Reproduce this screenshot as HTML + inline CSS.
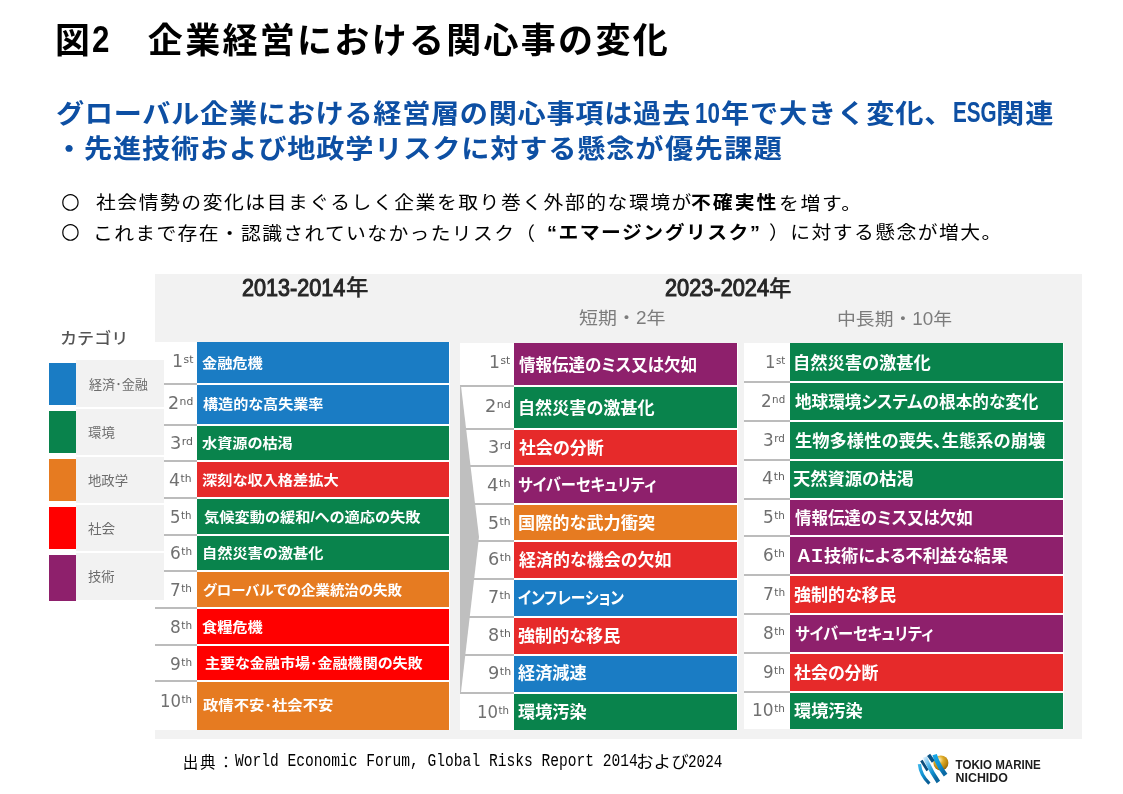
<!DOCTYPE html>
<html lang="ja">
<head>
<meta charset="utf-8">
<title>図2 企業経営における関心事の変化</title>
<style>
html,body{margin:0;padding:0;}
body{width:1123px;height:794px;position:relative;overflow:hidden;background:#fff;font-family:"Liberation Sans","Noto Sans CJK JP",sans-serif;}
h1,h2,p{margin:0;padding:0;font-weight:inherit;font-size:inherit;}
.t{position:absolute;white-space:nowrap;line-height:1.45;transform-origin:0 0;display:block;}
.t sup{font-size:10.7px;vertical-align:baseline;position:relative;top:-3.9px;line-height:0;margin-left:.5px;color:#5e5e5e;}
.f1{font-family:'Liberation Sans','Noto Sans CJK JP',sans-serif;font-weight:700;color:#000;}
.f2{font-family:'Liberation Sans','Noto Sans CJK JP',sans-serif;font-weight:700;color:#0d4fa3;}
.f3{font-family:'DejaVu Sans','Liberation Sans',sans-serif;font-weight:400;color:#000;}
.f4{font-family:'Liberation Sans','Noto Sans CJK JP',sans-serif;font-weight:400;color:#000;}
.f5{font-family:'Liberation Sans','Noto Sans CJK JP',sans-serif;font-weight:400;color:#262626;-webkit-text-stroke:1.1px #262626;}
.f6{font-family:'Liberation Sans','Noto Sans CJK JP',sans-serif;font-weight:500;color:#262626;-webkit-text-stroke:.3px #262626;}
.f7{font-family:'Liberation Sans','Noto Sans CJK JP',sans-serif;font-weight:400;color:#7c7c7c;}
.f8{font-family:'Liberation Sans','Noto Sans CJK JP',sans-serif;font-weight:500;color:#555;}
.f9{font-family:'Liberation Mono',monospace;font-weight:400;color:#000;}
.f10{font-family:'Liberation Sans','Noto Sans CJK JP',sans-serif;font-weight:700;color:#fff;font-feature-settings:'palt' 1;}
.f11{font-family:'DejaVu Sans','Liberation Sans',sans-serif;font-weight:400;color:#707070;}
.f12{font-family:'Liberation Sans','Noto Sans CJK JP',sans-serif;font-weight:400;color:#6c6c6c;font-feature-settings:'palt' 1;}
.tbl,.blk,.sep,.lbox,.lsq,.panel,.logo,.arrow{position:absolute;}
.panel{left:155px;top:274px;width:927px;height:464.7px;background:#f2f2f2;}
.tbl{background:#fff;}
.sep{height:1.6px;background:#bcbcbc;}
.lbox{left:76px;width:88px;background:#f2f2f2;}
.lsq{left:49px;width:27px;}
.logo{left:912px;top:748px;width:140px;height:44px;}
</style>
</head>
<body>
<h1><span class="t f1" id="t1" style="left:54.81px;top:15.86px;font-size:35px;transform:scaleX(0.9949);">図</span>
<span class="t f1" id="t1b" style="left:91.98px;top:14.35px;font-size:36.5px;transform:scaleX(0.8580);">2</span>
<span class="t f1" id="t2" style="left:147.86px;top:15.70px;font-size:35px;letter-spacing:2.295px;">企業経営における関心事の変化</span></h1>
<h2><span class="t f2" id="s1a" style="left:56.10px;top:94.57px;font-size:26.6px;letter-spacing:0.640px;transform:scaleX(1.060);">グローバル企業における経営層の関心事項は過去</span>
<span class="t f2" id="s1b" style="left:694.97px;top:92.30px;font-size:29.4px;transform:scaleX(0.7624);">10</span>
<span class="t f2" id="s1c" style="left:720.82px;top:95.14px;font-size:26.6px;letter-spacing:0.789px;transform:scaleX(1.060);">年で大きく変化、</span>
<span class="t f2" id="s1d" style="left:952.66px;top:92.14px;font-size:28.6px;transform:scaleX(0.7226);">ESG</span>
<span class="t f2" id="s1e" style="left:995.56px;top:94.68px;font-size:26.6px;letter-spacing:0.981px;transform:scaleX(1.060);">関連</span>
<span class="t f2" id="s2" style="left:55.40px;top:129.77px;font-size:26.6px;letter-spacing:0.782px;transform:scaleX(1.060);">・先進技術および地政学リスクに対する懸念が</span>
<span class="t f2" id="s2b" style="left:665.40px;top:130.05px;font-size:26.6px;letter-spacing:1.316px;transform:scaleX(1.060);">優先課題</span></h2>
<p><span class="t f3" id="b1o" style="left:61.07px;top:184.72px;font-size:21.6px;transform:scaleX(0.9937);">○</span>
<span class="t f4" id="b1a" style="left:95.54px;top:189.13px;font-size:18.7px;letter-spacing:1.438px;transform:scaleX(1.060);">社会情勢の変化は目まぐるしく企業を取り巻く外部的な環境が</span>
<span class="t f1" id="b1b" style="left:691.12px;top:189.06px;font-size:18.7px;letter-spacing:1.910px;transform:scaleX(1.060);">不確実性</span>
<span class="t f4" id="b1c" style="left:779.10px;top:189.54px;font-size:18.7px;letter-spacing:1.544px;transform:scaleX(1.060);">を増す。</span></p>
<p><span class="t f3" id="b2o" style="left:61.07px;top:214.72px;font-size:21.6px;transform:scaleX(0.9937);">○</span>
<span class="t f4" id="b2a" style="left:92.92px;top:219.74px;font-size:18.7px;letter-spacing:1.259px;transform:scaleX(1.060);">これまで存在・認識されていなかったリスク（</span>
<span class="t f1" id="b2b" style="left:546.70px;top:219.39px;font-size:18.7px;letter-spacing:1.427px;transform:scaleX(1.060);">“エマージングリスク”</span>
<span class="t f4" id="b2c" style="left:768.96px;top:219.39px;font-size:18.7px;letter-spacing:1.352px;transform:scaleX(1.060);">）に対する懸念が増大。</span></p>
<div class="panel"></div>
<span class="t f5" id="h1" style="left:241.51px;top:269.68px;font-size:24.8px;transform:scaleX(0.8718);">2013-2014</span>
<span class="t f6" id="h1y" style="left:345.94px;top:272.98px;font-size:21.2px;transform:scaleX(1.0599);">年</span>
<span class="t f5" id="h2" style="left:664.69px;top:270.31px;font-size:24.8px;transform:scaleX(0.8775);">2023-2024</span>
<span class="t f6" id="h2y" style="left:769.43px;top:274.33px;font-size:21.2px;transform:scaleX(1.0574);">年</span>
<span class="t f7" id="sh1" style="left:579.13px;top:306.14px;font-size:17.5px;transform:scaleX(1.0841);">短期・2年</span>
<span class="t f7" id="sh2" style="left:837.09px;top:307.22px;font-size:17.5px;transform:scaleX(1.0756);">中長期・10年</span>
<span class="t f8" id="cat" style="left:60.17px;top:328.00px;font-size:15.5px;transform:scaleX(1.1028);">カテゴリ</span>
<div class="tbl" style="left:155px;top:341.9px;width:295px;height:388.0px"></div>
<div class="blk" style="left:197px;top:342.2px;width:252px;height:40.7px;background:#1a7cc4"></div>
<div class="sep" style="left:155px;top:383.2px;width:42px"></div>
<div class="blk" style="left:197px;top:385.1px;width:252px;height:38.7px;background:#1a7cc4"></div>
<div class="sep" style="left:155px;top:424.2px;width:42px"></div>
<div class="blk" style="left:197px;top:426.1px;width:252px;height:33.6px;background:#09834c"></div>
<div class="sep" style="left:155px;top:460.1px;width:42px"></div>
<div class="blk" style="left:197px;top:462.2px;width:252px;height:34.4px;background:#e62a2a"></div>
<div class="sep" style="left:155px;top:497.2px;width:42px"></div>
<div class="blk" style="left:197px;top:499.3px;width:252px;height:34.5px;background:#09834c"></div>
<div class="sep" style="left:155px;top:534.2px;width:42px"></div>
<div class="blk" style="left:197px;top:536.1px;width:252px;height:33.5px;background:#09834c"></div>
<div class="sep" style="left:155px;top:570.1px;width:42px"></div>
<div class="blk" style="left:197px;top:572.2px;width:252px;height:34.5px;background:#e67b21"></div>
<div class="sep" style="left:155px;top:607.1px;width:42px"></div>
<div class="blk" style="left:197px;top:609.0px;width:252px;height:34.9px;background:#ff0000"></div>
<div class="sep" style="left:155px;top:644.2px;width:42px"></div>
<div class="blk" style="left:197px;top:646.1px;width:252px;height:33.7px;background:#ff0000"></div>
<div class="sep" style="left:155px;top:680.2px;width:42px"></div>
<div class="blk" style="left:197px;top:682.2px;width:252px;height:47.4px;background:#e67b21"></div>
<div class="lbox" style="top:360px;height:47px"></div><div class="lsq" style="top:363px;height:42px;background:#1a7cc4"></div>
<div class="lbox" style="top:409px;height:46px"></div><div class="lsq" style="top:411px;height:42px;background:#09834c"></div>
<div class="lbox" style="top:457px;height:46px"></div><div class="lsq" style="top:459px;height:42px;background:#e67b21"></div>
<div class="lbox" style="top:505px;height:46px"></div><div class="lsq" style="top:507px;height:42px;background:#ff0000"></div>
<div class="lbox" style="top:553px;height:47px"></div><div class="lsq" style="top:555px;height:46px;background:#8e206c"></div>
<span class="t f12" id="lg1" style="left:88.90px;top:376.32px;font-size:13.0px;transform:scaleX(1.0069);">経済･金融</span>
<span class="t f12" id="lg2" style="left:87.97px;top:424.15px;font-size:13.0px;transform:scaleX(1.0292);">環境</span>
<span class="t f12" id="lg3" style="left:87.99px;top:471.84px;font-size:13.0px;transform:scaleX(1.0276);">地政学</span>
<span class="t f12" id="lg4" style="left:88.26px;top:519.68px;font-size:13.0px;transform:scaleX(1.0461);">社会</span>
<span class="t f12" id="lg5" style="left:87.89px;top:567.64px;font-size:13.0px;transform:scaleX(1.0264);">技術</span>
<div class="tbl" style="left:460px;top:342.7px;width:278px;height:387.3px"></div>
<div class="blk" style="left:514px;top:343.0px;width:223px;height:41.8px;background:#8e206c"></div>
<div class="sep" style="left:460px;top:385.1px;width:54px"></div>
<div class="blk" style="left:514px;top:387.0px;width:223px;height:40.6px;background:#09834c"></div>
<div class="sep" style="left:460px;top:428.1px;width:54px"></div>
<div class="blk" style="left:514px;top:430.1px;width:223px;height:34.6px;background:#e62a2a"></div>
<div class="sep" style="left:460px;top:465.1px;width:54px"></div>
<div class="blk" style="left:514px;top:467.2px;width:223px;height:35.5px;background:#8e206c"></div>
<div class="sep" style="left:460px;top:503.1px;width:54px"></div>
<div class="blk" style="left:514px;top:505.2px;width:223px;height:34.6px;background:#e67b21"></div>
<div class="sep" style="left:460px;top:540.2px;width:54px"></div>
<div class="blk" style="left:514px;top:542.2px;width:223px;height:35.5px;background:#e62a2a"></div>
<div class="sep" style="left:460px;top:578.2px;width:54px"></div>
<div class="blk" style="left:514px;top:580.2px;width:223px;height:35.4px;background:#1a7cc4"></div>
<div class="sep" style="left:460px;top:616.1px;width:54px"></div>
<div class="blk" style="left:514px;top:618.2px;width:223px;height:35.5px;background:#e62a2a"></div>
<div class="sep" style="left:460px;top:654.2px;width:54px"></div>
<div class="blk" style="left:514px;top:656.2px;width:223px;height:35.4px;background:#1a7cc4"></div>
<div class="sep" style="left:460px;top:692.2px;width:54px"></div>
<div class="blk" style="left:514px;top:694.3px;width:223px;height:35.4px;background:#09834c"></div>
<svg class="arrow" style="left:460px;top:386px" width="20" height="306" viewBox="0 0 20 306"><polygon points="0,0 1,0 19,151 1,306 0,306" fill="#bfbfbf"/></svg>
<div class="tbl" style="left:744px;top:342.7px;width:320px;height:386.8px"></div>
<div class="blk" style="left:790px;top:343.0px;width:273px;height:37.8px;background:#09834c"></div>
<div class="sep" style="left:744px;top:381.2px;width:46px"></div>
<div class="blk" style="left:790px;top:383.3px;width:273px;height:36.4px;background:#09834c"></div>
<div class="sep" style="left:744px;top:420.1px;width:46px"></div>
<div class="blk" style="left:790px;top:422.2px;width:273px;height:36.6px;background:#09834c"></div>
<div class="sep" style="left:744px;top:459.2px;width:46px"></div>
<div class="blk" style="left:790px;top:461.3px;width:273px;height:36.5px;background:#09834c"></div>
<div class="sep" style="left:744px;top:498.3px;width:46px"></div>
<div class="blk" style="left:790px;top:500.4px;width:273px;height:34.5px;background:#8e206c"></div>
<div class="sep" style="left:744px;top:535.4px;width:46px"></div>
<div class="blk" style="left:790px;top:537.4px;width:273px;height:36.3px;background:#8e206c"></div>
<div class="sep" style="left:744px;top:574.2px;width:46px"></div>
<div class="blk" style="left:790px;top:576.3px;width:273px;height:36.4px;background:#e62a2a"></div>
<div class="sep" style="left:744px;top:613.2px;width:46px"></div>
<div class="blk" style="left:790px;top:615.3px;width:273px;height:36.5px;background:#8e206c"></div>
<div class="sep" style="left:744px;top:652.2px;width:46px"></div>
<div class="blk" style="left:790px;top:654.2px;width:273px;height:36.5px;background:#e62a2a"></div>
<div class="sep" style="left:744px;top:691.2px;width:46px"></div>
<div class="blk" style="left:790px;top:693.2px;width:273px;height:36.0px;background:#09834c"></div>
<span class="t f10" id="Lb1" style="left:201.96px;top:353.36px;font-size:14.0px;transform:scaleX(1.0847);">金融危機</span>
<span class="t f10" id="Lb2" style="left:203.41px;top:394.15px;font-size:14.0px;transform:scaleX(1.0778);">構造的な高失業率</span>
<span class="t f10" id="Lb3" style="left:201.95px;top:433.36px;font-size:14.0px;transform:scaleX(1.0832);">水資源の枯渇</span>
<span class="t f10" id="Lb4" style="left:201.91px;top:470.00px;font-size:14.0px;transform:scaleX(1.0884);">深刻な収入格差拡大</span>
<span class="t f10" id="Lb5" style="left:204.32px;top:506.92px;font-size:14.0px;transform:scaleX(1.0877);">気候変動の緩和/への適応の失敗</span>
<span class="t f10" id="Lb6" style="left:201.52px;top:542.68px;font-size:14.0px;transform:scaleX(1.0851);">自然災害の激甚化</span>
<span class="t f10" id="Lb7" style="left:202.97px;top:580.30px;font-size:14.0px;transform:scaleX(1.0326);">グローバルでの企業統治の失敗</span>
<span class="t f10" id="Lb8" style="left:201.96px;top:616.98px;font-size:14.0px;transform:scaleX(1.0847);">食糧危機</span>
<span class="t f10" id="Lb9" style="left:204.76px;top:653.16px;font-size:14.0px;transform:scaleX(1.0745);">主要な金融市場･金融機関の失敗</span>
<span class="t f10" id="Lb10" style="left:203.41px;top:695.15px;font-size:14.0px;transform:scaleX(1.0955);">政情不安･社会不安</span><span class="t f11" id="Lr1" style="left:171.78px;top:349.25px;font-size:17.3px;transform:scaleX(1.0084);">1<sup>st</sup></span>
<span class="t f11" id="Lr2" style="left:167.79px;top:390.57px;font-size:17.3px;transform:scaleX(1.0104);">2<sup>nd</sup></span>
<span class="t f11" id="Lr3" style="left:169.97px;top:430.68px;font-size:17.3px;transform:scaleX(1.0258);">3<sup>rd</sup></span>
<span class="t f11" id="Lr4" style="left:169.40px;top:467.57px;font-size:17.3px;transform:scaleX(1.0038);">4<sup>th</sup></span>
<span class="t f11" id="Lr5" style="left:170.26px;top:504.74px;font-size:17.3px;transform:scaleX(0.9543);">5<sup>th</sup></span>
<span class="t f11" id="Lr6" style="left:170.21px;top:541.05px;font-size:17.3px;transform:scaleX(0.9815);">6<sup>th</sup></span>
<span class="t f11" id="Lr7" style="left:170.03px;top:577.57px;font-size:17.3px;transform:scaleX(0.9733);">7<sup>th</sup></span>
<span class="t f11" id="Lr8" style="left:170.21px;top:615.36px;font-size:17.3px;transform:scaleX(0.9815);">8<sup>th</sup></span>
<span class="t f11" id="Lr9" style="left:170.21px;top:651.59px;font-size:17.3px;transform:scaleX(0.9815);">9<sup>th</sup></span>
<span class="t f11" id="Lr10" style="left:160.09px;top:688.91px;font-size:17.3px;transform:scaleX(0.9561);">10<sup>th</sup></span>
<span class="t f10" id="Mb1" style="left:519.21px;top:353.88px;font-size:17.0px;transform:scaleX(0.9693);">情報伝達のミス又は欠如</span>
<span class="t f10" id="Mb2" style="left:518.39px;top:396.82px;font-size:17.0px;transform:scaleX(1.0060);">自然災害の激甚化</span>
<span class="t f10" id="Mb3" style="left:518.80px;top:437.00px;font-size:17.0px;transform:scaleX(0.9981);">社会の分断</span>
<span class="t f10" id="Mb4" style="left:518.27px;top:473.66px;font-size:17.0px;transform:scaleX(0.8989);">サイバーセキュリティ</span>
<span class="t f10" id="Mb5" style="left:518.18px;top:512.12px;font-size:17.0px;transform:scaleX(1.0109);">国際的な武力衝突</span>
<span class="t f10" id="Mb6" style="left:518.80px;top:548.66px;font-size:17.0px;transform:scaleX(1.0005);">経済的な機会の欠如</span>
<span class="t f10" id="Mb7" style="left:518.29px;top:586.90px;font-size:17.0px;transform:scaleX(0.8677);">インフレーション</span>
<span class="t f10" id="Mb8" style="left:518.00px;top:624.54px;font-size:17.0px;transform:scaleX(1.0064);">強制的な移民</span>
<span class="t f10" id="Mb9" style="left:517.99px;top:662.48px;font-size:17.0px;transform:scaleX(1.0096);">経済減速</span>
<span class="t f10" id="Mb10" style="left:517.79px;top:700.82px;font-size:17.0px;transform:scaleX(1.0084);">環境汚染</span><span class="t f11" id="Mr1" style="left:489.21px;top:349.91px;font-size:17.3px;transform:scaleX(0.9958);">1<sup>st</sup></span>
<span class="t f11" id="Mr2" style="left:484.97px;top:393.82px;font-size:17.3px;transform:scaleX(1.0283);">2<sup>nd</sup></span>
<span class="t f11" id="Mr3" style="left:487.68px;top:434.96px;font-size:17.3px;transform:scaleX(1.0163);">3<sup>rd</sup></span>
<span class="t f11" id="Mr4" style="left:486.76px;top:473.36px;font-size:17.3px;transform:scaleX(1.0464);">4<sup>th</sup></span>
<span class="t f11" id="Mr5" style="left:488.18px;top:510.99px;font-size:17.3px;transform:scaleX(1.0014);">5<sup>th</sup></span>
<span class="t f11" id="Mr6" style="left:487.77px;top:547.25px;font-size:17.3px;transform:scaleX(1.0280);">6<sup>th</sup></span>
<span class="t f11" id="Mr7" style="left:487.76px;top:584.51px;font-size:17.3px;transform:scaleX(1.0087);">7<sup>th</sup></span>
<span class="t f11" id="Mr8" style="left:487.68px;top:622.72px;font-size:17.3px;transform:scaleX(1.0163);">8<sup>th</sup></span>
<span class="t f11" id="Mr9" style="left:487.77px;top:660.57px;font-size:17.3px;transform:scaleX(1.0280);">9<sup>th</sup></span>
<span class="t f11" id="Mr10" style="left:476.79px;top:699.72px;font-size:17.3px;transform:scaleX(0.9578);">10<sup>th</sup></span>
<span class="t f10" id="Rb1" style="left:792.97px;top:352.12px;font-size:17.0px;transform:scaleX(1.0156);">自然災害の激甚化</span>
<span class="t f10" id="Rb2" style="left:795.00px;top:391.38px;font-size:17.0px;transform:scaleX(0.9775);">地球環境システムの根本的な変化</span>
<span class="t f10" id="Rb3" style="left:794.98px;top:429.66px;font-size:17.0px;transform:scaleX(1.0170);">生物多様性の喪失、生態系の崩壊</span>
<span class="t f10" id="Rb4" style="left:792.79px;top:467.97px;font-size:17.0px;transform:scaleX(1.0164);">天然資源の枯渇</span>
<span class="t f10" id="Rb5" style="left:795.01px;top:506.74px;font-size:17.0px;transform:scaleX(0.9680);">情報伝達のミス又は欠如</span>
<span class="t f10" id="Rb6" style="left:796.79px;top:545.14px;font-size:17.0px;transform:scaleX(1.0093);">ＡＩ技術による不利益な結果</span>
<span class="t f10" id="Rb7" style="left:794.10px;top:583.64px;font-size:17.0px;transform:scaleX(1.0033);">強制的な移民</span>
<span class="t f10" id="Rb8" style="left:794.56px;top:622.66px;font-size:17.0px;transform:scaleX(0.9000);">サイバーセキュリティ</span>
<span class="t f10" id="Rb9" style="left:793.80px;top:662.28px;font-size:17.0px;transform:scaleX(0.9971);">社会の分断</span>
<span class="t f10" id="Rb10" style="left:793.79px;top:699.82px;font-size:17.0px;transform:scaleX(1.0084);">環境汚染</span><span class="t f11" id="Rr1" style="left:765.27px;top:349.72px;font-size:17.3px;transform:scaleX(0.9579);">1<sup>st</sup></span>
<span class="t f11" id="Rr2" style="left:761.33px;top:388.72px;font-size:17.3px;transform:scaleX(0.9652);">2<sup>nd</sup></span>
<span class="t f11" id="Rr3" style="left:763.03px;top:427.72px;font-size:17.3px;transform:scaleX(0.9696);">3<sup>rd</sup></span>
<span class="t f11" id="Rr4" style="left:762.17px;top:465.98px;font-size:17.3px;transform:scaleX(1.0163);">4<sup>th</sup></span>
<span class="t f11" id="Rr5" style="left:763.23px;top:504.72px;font-size:17.3px;transform:scaleX(0.9761);">5<sup>th</sup></span>
<span class="t f11" id="Rr6" style="left:763.03px;top:543.25px;font-size:17.3px;transform:scaleX(0.9657);">6<sup>th</sup></span>
<span class="t f11" id="Rr7" style="left:762.82px;top:581.91px;font-size:17.3px;transform:scaleX(0.9880);">7<sup>th</sup></span>
<span class="t f11" id="Rr8" style="left:763.03px;top:620.90px;font-size:17.3px;transform:scaleX(0.9735);">8<sup>th</sup></span>
<span class="t f11" id="Rr9" style="left:763.03px;top:659.74px;font-size:17.3px;transform:scaleX(0.9657);">9<sup>th</sup></span>
<span class="t f11" id="Rr10" style="left:751.73px;top:697.74px;font-size:17.3px;transform:scaleX(0.9846);">10<sup>th</sup></span>
<p><span class="t f4" id="src1" style="left:182.66px;top:751.56px;font-size:15.5px;letter-spacing:1.760px;">出典</span>
<span class="t f4" id="src1b" style="left:218.30px;top:751.76px;font-size:15.5px;">：</span>
<span class="t f9" id="src2" style="left:234.80px;top:749.08px;font-size:17.6px;transform:scaleX(0.8292);">World Economic Forum, Global Risks Report 2014</span>
<span class="t f4" id="src3" style="left:636.49px;top:751.26px;font-size:16.5px;transform:scaleX(1.0648);">および</span>
<span class="t f9" id="src4" style="left:688.35px;top:750.27px;font-size:17.6px;transform:scaleX(0.8148);">2024</span></p>
<svg class="logo" viewBox="0 0 140 44">
 <defs>
  <radialGradient id="gold" cx="0.38" cy="0.3" r="0.8"><stop offset="0" stop-color="#fff3c4"/><stop offset="0.35" stop-color="#e0ad2a"/><stop offset="0.75" stop-color="#b47f0c"/><stop offset="1" stop-color="#7c5604"/></radialGradient>
  <linearGradient id="b1" x1="0" y1="0" x2="0.6" y2="1"><stop offset="0" stop-color="#3bb4ea"/><stop offset="0.6" stop-color="#0f8fd0"/><stop offset="1" stop-color="#0a5f97"/></linearGradient>
  <linearGradient id="b2" x1="0" y1="0" x2="0.6" y2="1"><stop offset="0" stop-color="#cfe9fb"/><stop offset="0.35" stop-color="#58b9ec"/><stop offset="0.7" stop-color="#0f8fd0"/><stop offset="1" stop-color="#0a679f"/></linearGradient>
  <linearGradient id="b3" x1="0" y1="0" x2="0.6" y2="1"><stop offset="0" stop-color="#19a7e6"/><stop offset="0.6" stop-color="#0f92d4"/><stop offset="1" stop-color="#0b6aa5"/></linearGradient>
 </defs>
 <circle cx="28.9" cy="14.9" r="7.5" fill="url(#gold)"/>
 <g fill="none" stroke-linecap="butt">
  <path d="M7.4 16.2 Q8.6 27.5 17.4 35.6" stroke="url(#b1)" stroke-width="3.3"/>
  <path d="M9.4 12.6 L15.6 22.4" stroke="#0b4c7c" stroke-width="2.8"/>
  <path d="M13.0 9.0 Q18.0 22.0 26.4 34.0" stroke="url(#b2)" stroke-width="4.2"/>
  <path d="M16.6 6.9 L21.4 13.6" stroke="#0b5283" stroke-width="3.8"/>
  <path d="M22.6 6.6 Q26.0 17.5 33.6 27.2" stroke="url(#b3)" stroke-width="4.6"/>
 </g>
 <text x="43.6" y="20.9" font-family="Liberation Sans, sans-serif" font-size="12.8" font-weight="700" fill="#1c1c1c" textLength="85.2" lengthAdjust="spacingAndGlyphs">TOKIO MARINE</text>
 <text x="43.6" y="33.8" font-family="Liberation Sans, sans-serif" font-size="12.8" font-weight="700" fill="#1c1c1c" textLength="52.3" lengthAdjust="spacingAndGlyphs">NICHIDO</text>
</svg>
</body>
</html>
